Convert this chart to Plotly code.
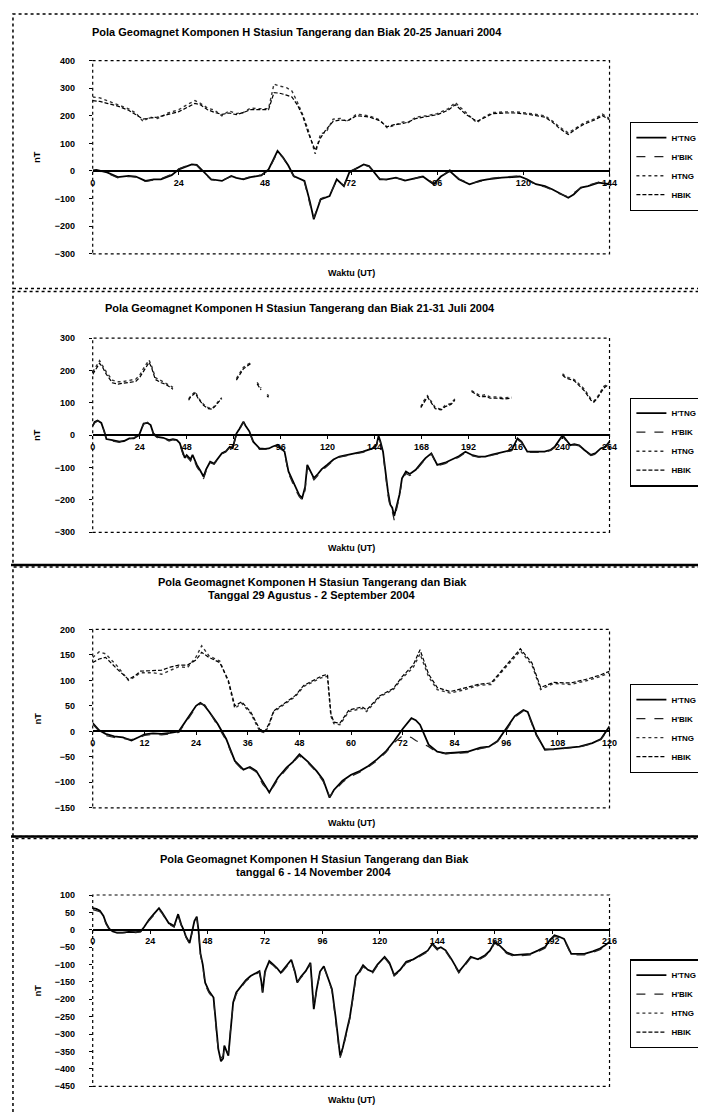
import plotly.graph_objects as go

# ---------------- DATA ----------------
SERIES_NAMES = ["H'TNG", "H'BIK", "HTNG", "HBIK"]

TITLES = [
    ["Pola Geomagnet Komponen H Stasiun Tangerang dan Biak 20-25 Januari 2004"],
    ["Pola Geomagnet Komponen H Stasiun Tangerang dan Biak 21-31 Juli 2004"],
    ["Pola Geomagnet Komponen H Stasiun Tangerang dan Biak", "Tanggal 29 Agustus - 2 September 2004"],
    ["Pola Geomagnet Komponen H Stasiun Tangerang dan Biak", "tanggal 6 - 14 November 2004"],
]
X_TITLE = "Waktu (UT)"
Y_TITLE = "nT"

# Panel 1: 20-25 Januari 2004
P1_HOURS_D = [0, 1, 4, 7, 10, 12, 14.7, 17, 19, 22, 24, 26, 27.6, 29, 31, 33, 36, 38.6, 40, 42,
              44, 47, 49, 51.5, 53, 54.5, 56, 58, 59, 60.5, 61.6, 63.5, 66, 68, 70, 71.5, 73, 75.5, 77, 80,
              82, 84.5, 87, 89, 92, 95, 97, 99.5, 102, 105, 108, 110, 114, 119, 121, 123.5, 126, 128, 130, 132.5,
              134, 136, 138, 141, 144]
P1_DTNG = [2, 4, -5, -22, -18, -20, -36, -30, -30, -15, 6, 15, 24, 22, -5, -30, -36, -18, -25, -30,
           -22, -16, 6, 73, 50, 20, -18, -30, -36, -110, -175, -103, -91, -30, -55, -5, 6, 24, 18, -30,
           -30, -24, -35, -28, -20, -48, -20, 0, -30, -48, -35, -30, -24, -20, -30, -48, -55, -66, -80, -97,
           -85, -60, -55, -42, -48]
P1_DBIK = [0, 2, -8, -25, -20, -22, -38, -32, -28, -12, 8, 18, 26, 20, -8, -32, -34, -20, -26, -28,
           -20, -14, 2, 68, 48, 18, -20, -32, -40, -120, -170, -100, -88, -34, -52, -2, 8, 22, 16, -28,
           -32, -26, -32, -30, -18, -45, -22, 4, -28, -45, -38, -28, -22, -18, -32, -50, -58, -68, -82, -94,
           -80, -62, -52, -40, -45]
P1_HOURS_H = [0, 2, 4, 7, 10, 12, 14, 16, 18, 21, 24, 26, 28.5, 30, 32, 34, 36, 38, 40, 42,
              44, 46, 49, 50.5, 52, 54, 55.5, 57, 58.5, 60, 62, 63.5, 65, 67, 69, 71, 73.5, 77, 80, 82,
              84, 86.5, 88, 90, 93, 96, 99, 101, 104, 107, 109, 111.5, 115, 118, 121, 123.5, 126, 128, 130, 132.5,
              135, 137, 140, 142, 144]
P1_HTNG = [268, 265, 255, 240, 225, 210, 180, 195, 190, 210, 222, 238, 255, 245, 228, 220, 200, 218, 208, 212,
           228, 226, 226, 315, 308, 302, 290, 250, 205, 150, 62, 135, 140, 188, 190, 180, 206, 200, 185, 157,
           165, 178, 176, 195, 200, 208, 225, 248, 210, 175, 195, 212, 214, 214, 210, 206, 200, 182, 160, 138,
           160, 175, 190, 206, 190]
P1_HBIK = [255, 252, 245, 235, 220, 205, 188, 192, 195, 205, 215, 228, 245, 240, 222, 212, 205, 210, 204, 212,
           222, 222, 222, 284, 282, 275, 268, 240, 200, 140, 75, 120, 150, 180, 185, 182, 200, 196, 182, 160,
           168, 172, 178, 190, 196, 204, 220, 240, 205, 180, 192, 208, 210, 210, 206, 200, 195, 178, 155, 132,
           155, 170, 186, 200, 186]

# Panel 2: 21-31 Juli 2004 (gaps = missing data)
P2_HOURS_D = [0, 1, 2.5, 4.4, 6, 7, 10, 13.6, 16, 18.7, 21, 23.7, 26, 28, 29.6, 31, 33, 36, 39, 41,
              43, 44.5, 45.6, 47, 48, 50, 51, 53.2, 55, 56.6, 58, 60, 62, 64, 66, 68, 70, 71.5, 73.4, 75,
              77, 78, 80, 82, 85.2, 88, 90, 92, 94.5, 96, 98, 100, 102, 103.7, 105.5, 107, 108.5, 109.6, 111, 113,
              115, 117, 119.7, 123, 126, 130, 135, 138, 143, 145, 146, 147, 148.3, 149.5, 150.8, 152, 153, 154, 155.5, 156.7,
              158, 160, 162, 165, 168, 170, 173, 176, 180, 183.6, 187, 190.4, 194, 197, 200.5, 204, 207, 211, 214, 217,
              219, 222, 226, 230.8, 234, 236, 240, 242, 244, 246, 248.5, 251, 254.5, 257, 259.5, 262, 264]
P2_DTNG = [30, 41, 45, 38, 10, -12, -15, -20, -18, -10, -10, 0, 36, 38, 31, 5, -5, -8, -15, -12,
           -15, -25, -45, -70, -62, -75, -61, -92, -110, -128, -105, -82, -88, -70, -56, -50, -36, -40, 5, 20,
           42, 30, 12, -20, -41, -42, -41, -35, -30, -40, -51, -112, -140, -163, -185, -194, -160, -92, -110, -133,
           -120, -105, -92, -75, -66, -61, -56, -51, -41, -30, -2, -20, -51, -120, -173, -215, -224, -250, -210, -184,
           -133, -112, -120, -107, -85, -71, -56, -92, -85, -76, -65, -51, -62, -66, -66, -60, -56, -50, -46, -10,
           -20, -51, -52, -51, -45, -36, 0, -15, -31, -28, -31, -45, -61, -55, -41, -35, -20]
P2_DBIK = [28, 38, 44, 40, 8, -14, -18, -22, -16, -12, -8, 2, 34, 40, 28, 2, -8, -10, -18, -14,
           -18, -28, -50, -78, -66, -80, -66, -98, -115, -135, -110, -85, -90, -72, -58, -52, -38, -42, 2, 18,
           40, 28, 10, -22, -44, -44, -43, -38, -32, -42, -55, -118, -148, -170, -190, -200, -170, -100, -115, -138,
           -125, -110, -96, -78, -68, -63, -58, -53, -43, -32, -5, -24, -58, -130, -185, -225, -235, -262, -220, -190,
           -140, -118, -125, -110, -88, -74, -58, -95, -88, -78, -68, -54, -64, -68, -68, -62, -58, -52, -48, -14,
           -22, -53, -54, -53, -47, -38, -4, -18, -33, -30, -33, -47, -63, -58, -44, -37, -22]
P2_HOURS_H = [0, 1, 3.5, 5, 7, 10, 13, 15, 18, 22, 24, 26.3, 28.8, 30, 32, 35, 37, 39, 41, 45,
              49, 50, 52.4, 54, 56.6, 59, 61, 63, 65, 66, 70, 73.4, 75, 77, 79, 81, 83, 84, 86, 87,
              89, 90, 100, 167.6, 169, 171, 173, 175, 178, 180, 183, 185, 189, 193.5, 196, 198, 200.5, 203, 207, 210,
              214, 225, 240, 241, 243, 246, 249, 251, 254.5, 256, 258, 261, 263]
P2_HTNG = [195, 205, 230, 215, 195, 170, 165, 165, 168, 173, 185, 210, 232, 215, 178, 168, 162, 155, 148, None,
           112, 120, 135, 115, 95, 85, 82, 95, 112, 115, None, 175, 190, 210, 218, 225, None, 163, 145, None,
           125, 122, None, 88, 105, 122, 105, 85, 80, 92, 98, 112, None, 138, 130, 122, 125, 118, 118, 115,
           117, None, 190, 184, 178, 172, 155, 143, 112, 105, 120, 150, 158]
P2_HBIK = [188, 198, 222, 210, 188, 162, 158, 160, 162, 166, 178, 202, 225, 210, 172, 162, 158, 150, 142, None,
           108, 118, 130, 112, 92, 82, 80, 92, 108, 112, None, 170, 185, 205, 214, 222, None, 158, 140, None,
           120, 118, None, 85, 100, 118, 100, 82, 78, 88, 95, 108, None, 135, 126, 118, 120, 114, 114, 112,
           114, None, 186, 180, 174, 168, 150, 138, 108, 102, 116, 145, 154]

# Panel 3: 29 Agustus - 2 September 2004
P3_HOURS_D = [0, 1.5, 3, 5, 7, 9, 11, 12, 14, 16, 18, 20, 22, 24, 25, 26, 27, 29, 31, 33,
              35, 36.5, 38, 39.5, 41, 42, 43, 45, 46.5, 48, 50, 52, 53.5, 55, 56, 58, 60, 62, 64, 66,
              68, 70, 72, 74, 75, 76, 78, 80, 82, 84, 87, 90, 92, 94, 96, 98, 100, 101, 103, 105,
              107, 110, 113, 116, 118, 120]
P3_DTNG = [16, 2, -5, -10, -12, -18, -10, -6, -4, -5, -3, 0, 25, 50, 56, 50, 39, 15, -15, -58,
           -75, -70, -78, -100, -120, -105, -91, -71, -60, -45, -60, -78, -95, -130, -115, -97, -85, -78, -68, -55,
           -40, -19, 5, 26, 22, 13, -26, -40, -43, -42, -40, -32, -30, -19, 5, 30, 42, 38, -6, -36,
           -35, -32, -30, -23, -15, 10]
P3_DBIK = [14, 0, -8, -12, -14, -16, -12, -8, -6, -7, -5, -2, 22, 48, 54, 52, 40, 12, -18, -60,
           -78, -72, -80, -104, -118, -108, -94, -74, -62, -48, -62, -80, -98, -128, -118, -100, -88, -80, -70, -58,
           -42, -22, -8, -12, -18, -22, -30, -42, -44, -43, -42, -34, -31, -20, 2, 28, 40, 36, -8, -35,
           -36, -33, -31, -24, -16, 6]
P3_HOURS_H = [0, 1.5, 3, 5.7, 8.3, 10, 11, 14, 16, 18, 20, 22, 24, 25.3, 27, 29.5, 31.5, 33, 34.6, 36.7,
              38.8, 40, 41, 42, 45, 47, 49, 51, 53, 54.5, 55.3, 56, 57.4, 59.5, 62.6, 63.6, 66.7, 69.8, 71.9, 74.4,
              76, 78, 80, 83, 86, 89.5, 92.5, 95.6, 97.7, 99.3, 102, 104, 107, 111, 115, 118, 120]
P3_HTNG = [145, 156, 152, 128, 100, 108, 115, 115, 112, 120, 127, 125, 146, 168, 148, 138, 97, 45, 55, 35,
           0, -3, 13, 38, 55, 68, 88, 97, 105, 108, 30, 15, 13, 39, 45, 39, 68, 82, 105, 125,
           152, 107, 82, 75, 81, 90, 92, 123, 143, 158, 130, 82, 94, 92, 100, 108, 115]
P3_HBIK = [135, 142, 145, 122, 102, 110, 118, 120, 120, 126, 130, 130, 140, 155, 145, 135, 100, 50, 58, 38,
           4, 0, 16, 40, 58, 70, 90, 99, 108, 112, 35, 18, 16, 42, 48, 42, 70, 84, 108, 130,
           160, 112, 86, 78, 84, 92, 95, 126, 146, 162, 134, 86, 96, 95, 103, 111, 118]

# Panel 4: 6 - 14 November 2004 (H curves not visible in the scan -> no values)
P4_HOURS_D = [0, 1.5, 3, 4.5, 5.6, 7, 8.4, 10, 12.5, 15, 18, 20, 21.5, 23.5, 25.5, 27.7, 29, 30.5, 31.8, 33,
              34, 35.7, 37, 38, 39, 40.5, 41.5, 42.5, 43.5, 44.2, 45, 46, 47, 48.5, 50.5, 51.5, 52.5, 53.6, 54.5, 55,
              56.7, 57.5, 58.7, 60, 62, 64, 66, 68, 69.7, 70.5, 71, 72, 73.8, 75.5, 77, 78.6, 80, 81.5, 83, 84.5,
              85.5, 87, 89, 91, 92.4, 93.5, 95, 96.6, 98, 100, 101.5, 103.4, 104.5, 106, 107.5, 109, 110, 111.5, 113, 115,
              117, 119, 122, 124, 126, 128.5, 131, 134, 137.8, 140, 142, 144, 145.5, 147.5, 150, 153, 155.5, 158, 161, 164,
              166, 168, 170, 173, 176, 180, 183, 186, 189, 191, 193, 195, 197, 200, 203, 205.5, 209, 212, 214, 216]
P4_DTNG = [62, 60, 55, 40, 19, 2, -5, -8, -8, -6, -7, -5, 8, 29, 45, 62, 50, 35, 19, 15,
           10, 45, 15, 0, -20, -38, -10, 25, 38, 0, -67, -100, -152, -175, -195, -260, -343, -378, -370, -333,
           -362, -300, -209, -180, -162, -145, -133, -125, -119, -150, -181, -120, -90, -100, -110, -124, -112, -100, -86, -120,
           -152, -135, -119, -95, -228, -175, -120, -105, -130, -171, -250, -362, -340, -295, -250, -181, -133, -120, -102, -115,
           -121, -100, -78, -95, -130, -115, -92, -85, -69, -60, -40, -55, -50, -59, -85, -121, -100, -78, -85, -73,
           -60, -35, -45, -65, -73, -70, -69, -60, -50, -30, -16, -20, -26, -69, -70, -69, -62, -54, -45, -35]
P4_DBIK = [58, 56, 52, 36, 16, 0, -6, -9, -9, -7, -8, -6, 6, 26, 42, 58, 47, 32, 16, 12,
           8, 40, 12, -2, -22, -40, -12, 22, 34, -4, -70, -105, -158, -180, -200, -268, -350, -370, -362, -340,
           -355, -295, -215, -185, -166, -148, -136, -128, -122, -155, -178, -124, -94, -103, -113, -127, -115, -103, -90, -123,
           -150, -138, -122, -98, -222, -178, -124, -108, -133, -175, -255, -368, -345, -300, -255, -186, -137, -124, -106, -118,
           -124, -103, -81, -98, -133, -118, -95, -88, -72, -63, -43, -58, -53, -62, -88, -124, -103, -81, -88, -76,
           -63, -38, -48, -68, -76, -73, -72, -63, -53, -33, -19, -23, -29, -72, -73, -72, -65, -57, -48, -38]
P4_HOURS_H = [None]
P4_HTNG = [None]
P4_HBIK = [None]

X_RANGES = [144, 264, 120, 216]
X_DTICKS = [24, 24, 12, 24]
Y_RANGES = [(-300, 400), (-300, 300), (-150, 200), (-450, 100)]
Y_DTICKS = [100, 100, 50, 50]

# ---------------- LAYOUT GEOMETRY (pixels) ----------------
W, H = 706, 1114
PLOT_L, PLOT_R = 83, 608
PANELS = [
    dict(top=48, bottom=243, title_y=[19], title_x=291, xt_y=262, leg_top=110, frame=(1, 278)),
    dict(top=328, bottom=524, title_y=[298], title_x=294, xt_y=540, leg_top=388, frame=(281, 557)),
    dict(top=622, bottom=802, title_y=[574, 587], title_x=306, xt_y=817, leg_top=677, frame=(559, 831)),
    dict(top=890, bottom=1083, title_y=[854, 867], title_x=308, xt_y=1097, leg_top=955, frame=(833, 1113)),
]

def yp(px):
    return 1 - px / H

def xp(px):
    return px / W

DATA = [
    (P1_HOURS_D, P1_DTNG, P1_DBIK, P1_HOURS_H, P1_HTNG, P1_HBIK),
    (P2_HOURS_D, P2_DTNG, P2_DBIK, P2_HOURS_H, P2_HTNG, P2_HBIK),
    (P3_HOURS_D, P3_DTNG, P3_DBIK, P3_HOURS_H, P3_HTNG, P3_HBIK),
    (P4_HOURS_D, P4_DTNG, P4_DBIK, P4_HOURS_H, P4_HTNG, P4_HBIK),
]

STYLES = [
    dict(color="black", width=1.8, dash="solid"),
    dict(color="#222222", width=1.2, dash="dash"),
    dict(color="#333333", width=1.4, dash="dot"),
    dict(color="black", width=1.2, dash="4px,2px"),
]

FONT = "Liberation Sans, Arial, sans-serif"

fig = go.Figure()
layout = dict(width=W, height=H, margin=dict(l=0, r=0, t=0, b=0),
              paper_bgcolor="white", plot_bgcolor="white", showlegend=True)
shapes = []
annotations = []

for i, (p, d) in enumerate(zip(PANELS, DATA)):
    n = i + 1
    xa = "x" if n == 1 else f"x{n}"
    ya = "y" if n == 1 else f"y{n}"
    leg = "legend" if n == 1 else f"legend{n}"
    hd, dtng, dbik, hh, htng, hbik = d
    series = [(hd, dtng), (hd, dbik), (hh, htng), (hh, hbik)]
    for s, ((xs, ys), name, st) in enumerate(zip(series, SERIES_NAMES, STYLES)):
        fig.add_trace(go.Scatter(x=xs, y=ys, mode="lines", name=name, line=st,
                                 xaxis=xa, yaxis=ya, legend=leg, connectgaps=False,
                                 showlegend=True, hoverinfo="skip"))
    ymin, ymax = Y_RANGES[i]
    dom_y = [yp(p["bottom"]), yp(p["top"])]
    zero_pos = dom_y[0] + (0 - ymin) / (ymax - ymin) * (dom_y[1] - dom_y[0])
    layout["xaxis" if n == 1 else f"xaxis{n}"] = dict(
        domain=[xp(PLOT_L), xp(PLOT_R)], range=[0, X_RANGES[i]],
        tickmode="linear", tick0=0, dtick=X_DTICKS[i],
        anchor="free", position=zero_pos,
        showline=True, linecolor="black", linewidth=1.6,
        ticks="outside", ticklen=3, tickcolor="black",
        tickfont=dict(family=FONT, size=9, color="black", weight="bold"),
        showgrid=False, zeroline=False, fixedrange=True)
    layout["yaxis" if n == 1 else f"yaxis{n}"] = dict(
        domain=dom_y, range=[ymin, ymax], tickmode="linear", tick0=0, dtick=Y_DTICKS[i],
        anchor=xa, showline=False, ticks="outside", ticklen=3, tickcolor="black",
        ticklabelstandoff=12,
        tickfont=dict(family=FONT, size=9, color="black", weight="bold"),
        showgrid=False, zeroline=False, fixedrange=True)
    layout[leg] = dict(x=xp(629), y=yp(p["leg_top"]), xanchor="left", yanchor="top",
                       bgcolor="white", bordercolor="black", borderwidth=1.2,
                       font=dict(family=FONT, size=8, color="black", weight="bold"),
                       itemwidth=30, tracegroupgap=0, traceorder="normal")
    # plot-area dotted border
    shapes.append(dict(type="rect", xref=f"{xa} domain", yref=f"{ya} domain",
                       x0=0, x1=1, y0=0, y1=1, line=dict(color="black", width=1.2, dash="dot")))
    # panel frame
    f0, f1 = p["frame"]
    shapes.append(dict(type="rect", xref="paper", yref="paper",
                       x0=xp(2), x1=xp(705), y0=yp(f1), y1=yp(f0),
                       line=dict(color="black", width=1.5, dash="dot")))
    # titles
    for line_txt, ty in zip(TITLES[i], p["title_y"]):
        annotations.append(dict(text=line_txt, xref="paper", yref="paper",
                                x=xp(p["title_x"]), y=yp(ty), xanchor="center", yanchor="middle",
                                showarrow=False,
                                font=dict(family=FONT, size=11, color="black", weight="bold")))
    annotations.append(dict(text=X_TITLE, xref="paper", yref="paper",
                            x=xp((PLOT_L + PLOT_R) / 2), y=yp(p["xt_y"]),
                            xanchor="center", yanchor="middle", showarrow=False,
                            font=dict(family=FONT, size=9, color="black", weight="bold")))
    annotations.append(dict(text=Y_TITLE, xref="paper", yref="paper",
                            x=xp(27), y=(dom_y[0] + dom_y[1]) / 2, textangle=-90,
                            xanchor="center", yanchor="middle", showarrow=False,
                            font=dict(family=FONT, size=9, color="black", weight="bold")))

# thick separators between lower panels (as in the scan)
for sep in (557, 831):
    shapes.append(dict(type="line", xref="paper", yref="paper", x0=0, x1=1,
                       y0=yp(sep), y1=yp(sep), line=dict(color="black", width=2.5)))

layout["shapes"] = shapes
layout["annotations"] = annotations
fig.update_layout(**layout)
fig.write_html("out.html")
